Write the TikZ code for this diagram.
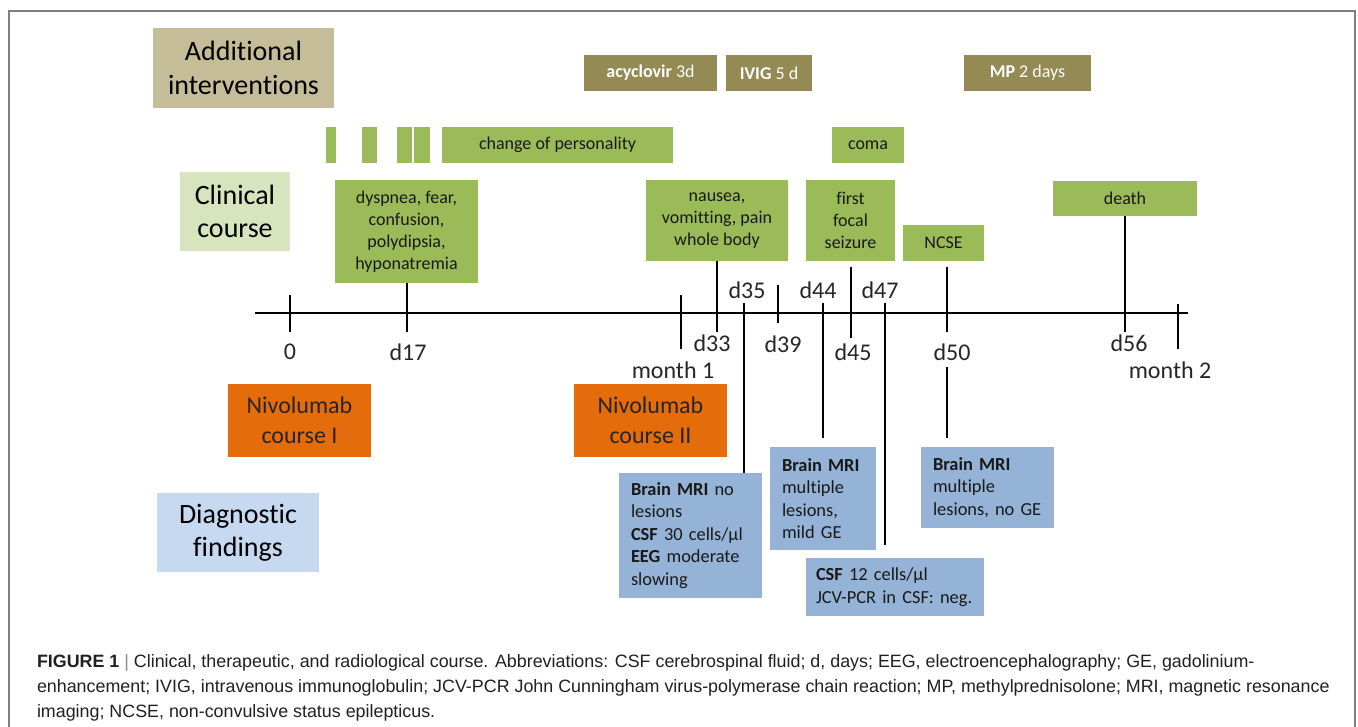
\documentclass[tikz,border=0pt]{standalone}
\usepackage{fontspec}
\setmainfont[Ligatures=NoCommon]{Carlito}
\newfontfamily\capfont{Liberation Sans}
\usetikzlibrary{positioning}
\definecolor{ctan}{HTML}{C4BD97}
\definecolor{colive}{HTML}{948A54}
\definecolor{cgreen}{HTML}{9BBB59}
\definecolor{clgreen}{HTML}{D7E4BD}
\definecolor{corange}{HTML}{E46C0A}
\definecolor{cblue}{HTML}{95B3D7}
\definecolor{clblue}{HTML}{C6D9F1}
\definecolor{cframe}{HTML}{7F7F7F}
\definecolor{ccap}{HTML}{231F20}

\begin{document}
\begin{tikzpicture}[x=0.75pt,y=-0.75pt,
  every node/.style={inner sep=0pt,outer sep=0pt},
  sz/.style 2 args={minimum width=#1*0.75pt,minimum height=#2*0.75pt},
  head/.style={font=\fontsize{21}{25}\selectfont,align=center},
  ev/.style={fill=cgreen,text=black!90,font=\fontsize{13.5}{16.5}\selectfont,align=center},
  med/.style={fill=colive,text=white,font=\fontsize{13.5}{16.5}\selectfont},
  niv/.style={fill=corange,text=black!85,font=\fontsize{18}{22.5}\selectfont,align=center},
  find/.style={fill=cblue,text=black!90,font=\fontsize{13.8}{16.9}\selectfont,align=left,inner xsep=9pt},
  day/.style={font=\fontsize{18}{21}\selectfont,text=black!85},
  tick/.style={line width=1.5pt},
  capline/.style={font=\capfont\fontsize{13.4}{15}\selectfont,text=ccap,anchor=west}]
\useasboundingbox (0,0) rectangle (1358,727);
\draw[cframe,line width=1.1pt] (9,730) -- (9,11) -- (1355,11) -- (1355,730);

% row headers
\node[head,fill=ctan,sz={181}{80}] (addint) at (243.5,68) {Additional\\interventions};
\node[head,fill=clgreen,sz={110}{79}] (clin) at (235,211.5) {Clinical\\course};
\node[head,fill=clblue,sz={162}{79}] (diag) at (238,532.5) {Diagnostic\\findings};

% additional interventions
\node[med,sz={133}{36}] (acyc) at (650.5,73) {\textbf{acyclovir} 3d};
\node[med,sz={86}{36}] (ivig) at (769,73) {\textbf{IVIG} 5 d};
\node[med,sz={127}{36}] (mp) at (1027.5,73) {\textbf{MP} 2 days};

% clinical course
\foreach \n/\x/\w in {b1/331/10, b2/369.5/15, b3/404.5/15, b4/422/16}
  \node[ev,sz={\w}{36}] (\n) at (\x,145) {};
\node[ev,sz={231}{36}] (pers) at (557.5,145) {change of personality};
\node[ev,sz={72}{36}] (coma) at (868,145) {coma};
\node[ev,sz={143}{103}] (dysp) at (406.5,231.5) {dyspnea, fear,\\confusion,\\polydipsia,\\hyponatremia};
\node[ev,sz={142}{81}] (naus) at (717,220.5) {nausea,\\vomitting, pain\\whole body};
\node[ev,sz={89}{81}] (seiz) at (850.5,220.5) {first\\focal\\seizure};
\node[ev,sz={81}{36}] (ncse) at (943.5,243) {NCSE};
\node[ev,sz={144}{35}] (death) at (1125,198.5) {death};

% nivolumab
\node[niv,sz={143}{73}] (niv1) at (299.5,420.5) {Nivolumab\\course I};
\node[niv,sz={153}{73}] (niv2) at (650.5,420.5) {Nivolumab\\course II};

% diagnostic findings
\node[find,text width=89.25pt,minimum height=93.75pt] (mri1) at (690.5,535.5)
  {\textbf{Brain MRI} no\\lesions\\\textbf{CSF} 30 cells/µl\\\textbf{EEG} moderate\\slowing};
\node[find,text width=61.5pt,minimum height=77.25pt] (mri2) at (823,498.5)
  {\textbf{Brain MRI}\\multiple\\lesions,\\mild GE};
\node[find,inner xsep=7.5pt,text width=118.5pt,minimum height=43.5pt] (csf2) at (895,587)
  {\textbf{CSF} 12 cells/µl\\JCV-PCR in CSF: neg.};
\node[find,text width=81.75pt,minimum height=60.75pt] (mri3) at (987.5,487.5)
  {\textbf{Brain MRI}\\multiple\\lesions, no GE};

% time axis
\coordinate (ax0) at (255,313);
\coordinate (ax1) at (1188,313);
\draw[tick] (ax0) -- (ax1);
\foreach \x/\a/\b in {290/295/332, 681/295/349, 778/285/323, 1178/304/349}
  \draw[tick] (\x,\a) -- (\x,\b);

\coordinate (e17) at (406.5,332);
\coordinate (e33) at (717,332);
\coordinate (s35) at (744,303);
\coordinate (s44) at (823,303);
\coordinate (e44) at (823,438);
\coordinate (s45) at (850.5,267);
\coordinate (e45) at (850.5,338);
\coordinate (s47) at (885,303);
\coordinate (e47) at (885,545);
\coordinate (s50) at (947,267);
\coordinate (e50) at (947,332);
\coordinate (u50) at (947,367);
\coordinate (v50) at (947,438);
\coordinate (e56) at (1125,332);

\draw[tick] (dysp.south) -- (e17);
\draw[tick] (naus.south) -- (e33);
\draw[tick] (s35) -- (s35 |- mri1.north);
\draw[tick] (s44) -- (e44);
\draw[tick] (s45) -- (e45);
\draw[tick] (s47) -- (e47);
\draw[tick] (s50) -- (e50);
\draw[tick] (u50) -- (v50);
\draw[tick] (death.south) -- (e56);

% day labels
\node[day] (l0) at (290,352) {0};
\node[day] (l17) at (408,352) {d17};
\node[day] (lm1) at (673,370) {month 1};
\node[day] (l33) at (712,343) {d33};
\node[day] (l35) at (747,290) {d35};
\node[day] (l39) at (783,344) {d39};
\node[day] (l44) at (818,290) {d44};
\node[day] (l45) at (853,352) {d45};
\node[day] (l47) at (880,290) {d47};
\node[day] (l50) at (952,352) {d50};
\node[day] (l56) at (1129,343) {d56};
\node[day] (lm2) at (1170,370) {month 2};

% caption
\node[capline] (cap1) at (37,663) {\textbf{FIGURE 1} {\color{black!45}|} Clinical, therapeutic, and radiological course. Abbreviations: CSF cerebrospinal fluid; d, days; EEG, electroencephalography; GE, gadolinium-};
\node[capline] (cap2) at (37,688) {enhancement; IVIG, intravenous immunoglobulin; JCV-PCR John Cunningham virus-polymerase chain reaction; MP, methylprednisolone; MRI, magnetic resonance};
\node[capline] (cap3) at (37,713) {imaging; NCSE, non-convulsive status epilepticus.};
\end{tikzpicture}
\end{document}
